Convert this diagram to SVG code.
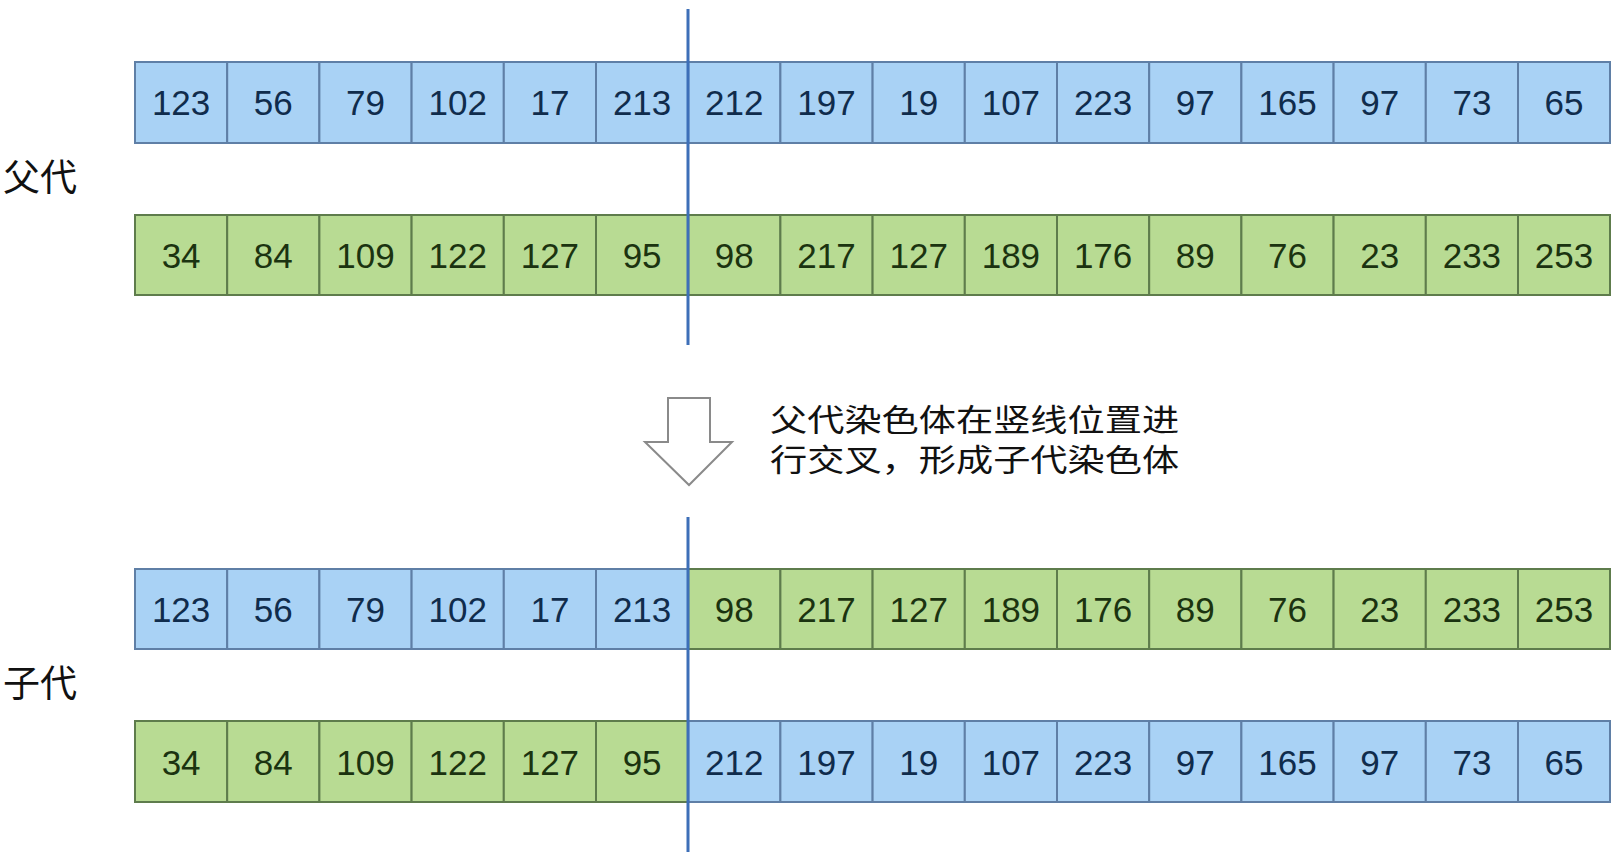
<svg xmlns="http://www.w3.org/2000/svg" width="1617" height="859" viewBox="0 0 1617 859">
<style>
.b{fill:#a9d2f5;stroke:#5f7fa6;stroke-width:2}
.g{fill:#b8db93;stroke:#5e7c4c;stroke-width:2}
.n{font-family:"Liberation Sans",Arial,sans-serif;font-size:35px;text-anchor:middle}
.tb{fill:#102c4c}
.tg{fill:#1b3310}
.lbl{font-family:"Noto Sans CJK SC","Noto Sans",sans-serif;font-size:37px;fill:#111}
.cap{font-family:"Noto Sans CJK SC","Noto Sans",sans-serif;font-size:31px;fill:#111}
.cut{stroke:#3d6fb8;stroke-width:3;fill:none}
</style>
<rect width="1617" height="859" fill="#ffffff"/>
<g id="label-parent"><text class="lbl" x="3" y="191">父代</text></g>
<g id="label-child"><text class="lbl" x="3" y="697">子代</text></g>

<g id="row-parent1">
<g id="p1-0"><rect class="b" x="135" y="62" width="92.2" height="81"/><text class="n tb" x="181.1" y="115">123</text></g>
<g id="p1-1"><rect class="b" x="227.2" y="62" width="92.2" height="81"/><text class="n tb" x="273.3" y="115">56</text></g>
<g id="p1-2"><rect class="b" x="319.4" y="62" width="92.2" height="81"/><text class="n tb" x="365.5" y="115">79</text></g>
<g id="p1-3"><rect class="b" x="411.6" y="62" width="92.2" height="81"/><text class="n tb" x="457.7" y="115">102</text></g>
<g id="p1-4"><rect class="b" x="503.8" y="62" width="92.2" height="81"/><text class="n tb" x="549.9" y="115">17</text></g>
<g id="p1-5"><rect class="b" x="596" y="62" width="92.2" height="81"/><text class="n tb" x="642.1" y="115">213</text></g>
<g id="p1-6"><rect class="b" x="688.2" y="62" width="92.2" height="81"/><text class="n tb" x="734.3" y="115">212</text></g>
<g id="p1-7"><rect class="b" x="780.4" y="62" width="92.2" height="81"/><text class="n tb" x="826.5" y="115">197</text></g>
<g id="p1-8"><rect class="b" x="872.6" y="62" width="92.2" height="81"/><text class="n tb" x="918.7" y="115">19</text></g>
<g id="p1-9"><rect class="b" x="964.8" y="62" width="92.2" height="81"/><text class="n tb" x="1010.9" y="115">107</text></g>
<g id="p1-10"><rect class="b" x="1057" y="62" width="92.2" height="81"/><text class="n tb" x="1103.1" y="115">223</text></g>
<g id="p1-11"><rect class="b" x="1149.2" y="62" width="92.2" height="81"/><text class="n tb" x="1195.3" y="115">97</text></g>
<g id="p1-12"><rect class="b" x="1241.4" y="62" width="92.2" height="81"/><text class="n tb" x="1287.5" y="115">165</text></g>
<g id="p1-13"><rect class="b" x="1333.6" y="62" width="92.2" height="81"/><text class="n tb" x="1379.7" y="115">97</text></g>
<g id="p1-14"><rect class="b" x="1425.8" y="62" width="92.2" height="81"/><text class="n tb" x="1471.9" y="115">73</text></g>
<g id="p1-15"><rect class="b" x="1518" y="62" width="92" height="81"/><text class="n tb" x="1564" y="115">65</text></g>
</g>

<g id="row-parent2">
<g id="p2-0"><rect class="g" x="135" y="215" width="92.2" height="80"/><text class="n tg" x="181.1" y="268">34</text></g>
<g id="p2-1"><rect class="g" x="227.2" y="215" width="92.2" height="80"/><text class="n tg" x="273.3" y="268">84</text></g>
<g id="p2-2"><rect class="g" x="319.4" y="215" width="92.2" height="80"/><text class="n tg" x="365.5" y="268">109</text></g>
<g id="p2-3"><rect class="g" x="411.6" y="215" width="92.2" height="80"/><text class="n tg" x="457.7" y="268">122</text></g>
<g id="p2-4"><rect class="g" x="503.8" y="215" width="92.2" height="80"/><text class="n tg" x="549.9" y="268">127</text></g>
<g id="p2-5"><rect class="g" x="596" y="215" width="92.2" height="80"/><text class="n tg" x="642.1" y="268">95</text></g>
<g id="p2-6"><rect class="g" x="688.2" y="215" width="92.2" height="80"/><text class="n tg" x="734.3" y="268">98</text></g>
<g id="p2-7"><rect class="g" x="780.4" y="215" width="92.2" height="80"/><text class="n tg" x="826.5" y="268">217</text></g>
<g id="p2-8"><rect class="g" x="872.6" y="215" width="92.2" height="80"/><text class="n tg" x="918.7" y="268">127</text></g>
<g id="p2-9"><rect class="g" x="964.8" y="215" width="92.2" height="80"/><text class="n tg" x="1010.9" y="268">189</text></g>
<g id="p2-10"><rect class="g" x="1057" y="215" width="92.2" height="80"/><text class="n tg" x="1103.1" y="268">176</text></g>
<g id="p2-11"><rect class="g" x="1149.2" y="215" width="92.2" height="80"/><text class="n tg" x="1195.3" y="268">89</text></g>
<g id="p2-12"><rect class="g" x="1241.4" y="215" width="92.2" height="80"/><text class="n tg" x="1287.5" y="268">76</text></g>
<g id="p2-13"><rect class="g" x="1333.6" y="215" width="92.2" height="80"/><text class="n tg" x="1379.7" y="268">23</text></g>
<g id="p2-14"><rect class="g" x="1425.8" y="215" width="92.2" height="80"/><text class="n tg" x="1471.9" y="268">233</text></g>
<g id="p2-15"><rect class="g" x="1518" y="215" width="92" height="80"/><text class="n tg" x="1564" y="268">253</text></g>
</g>

<g id="row-child1">
<g id="c1-0"><rect class="b" x="135" y="569" width="92.2" height="80"/><text class="n tb" x="181.1" y="622">123</text></g>
<g id="c1-1"><rect class="b" x="227.2" y="569" width="92.2" height="80"/><text class="n tb" x="273.3" y="622">56</text></g>
<g id="c1-2"><rect class="b" x="319.4" y="569" width="92.2" height="80"/><text class="n tb" x="365.5" y="622">79</text></g>
<g id="c1-3"><rect class="b" x="411.6" y="569" width="92.2" height="80"/><text class="n tb" x="457.7" y="622">102</text></g>
<g id="c1-4"><rect class="b" x="503.8" y="569" width="92.2" height="80"/><text class="n tb" x="549.9" y="622">17</text></g>
<g id="c1-5"><rect class="b" x="596" y="569" width="92.2" height="80"/><text class="n tb" x="642.1" y="622">213</text></g>
<g id="c1-6"><rect class="g" x="688.2" y="569" width="92.2" height="80"/><text class="n tg" x="734.3" y="622">98</text></g>
<g id="c1-7"><rect class="g" x="780.4" y="569" width="92.2" height="80"/><text class="n tg" x="826.5" y="622">217</text></g>
<g id="c1-8"><rect class="g" x="872.6" y="569" width="92.2" height="80"/><text class="n tg" x="918.7" y="622">127</text></g>
<g id="c1-9"><rect class="g" x="964.8" y="569" width="92.2" height="80"/><text class="n tg" x="1010.9" y="622">189</text></g>
<g id="c1-10"><rect class="g" x="1057" y="569" width="92.2" height="80"/><text class="n tg" x="1103.1" y="622">176</text></g>
<g id="c1-11"><rect class="g" x="1149.2" y="569" width="92.2" height="80"/><text class="n tg" x="1195.3" y="622">89</text></g>
<g id="c1-12"><rect class="g" x="1241.4" y="569" width="92.2" height="80"/><text class="n tg" x="1287.5" y="622">76</text></g>
<g id="c1-13"><rect class="g" x="1333.6" y="569" width="92.2" height="80"/><text class="n tg" x="1379.7" y="622">23</text></g>
<g id="c1-14"><rect class="g" x="1425.8" y="569" width="92.2" height="80"/><text class="n tg" x="1471.9" y="622">233</text></g>
<g id="c1-15"><rect class="g" x="1518" y="569" width="92" height="80"/><text class="n tg" x="1564" y="622">253</text></g>
</g>

<g id="row-child2">
<g id="c2-0"><rect class="g" x="135" y="721" width="92.2" height="81"/><text class="n tg" x="181.1" y="775">34</text></g>
<g id="c2-1"><rect class="g" x="227.2" y="721" width="92.2" height="81"/><text class="n tg" x="273.3" y="775">84</text></g>
<g id="c2-2"><rect class="g" x="319.4" y="721" width="92.2" height="81"/><text class="n tg" x="365.5" y="775">109</text></g>
<g id="c2-3"><rect class="g" x="411.6" y="721" width="92.2" height="81"/><text class="n tg" x="457.7" y="775">122</text></g>
<g id="c2-4"><rect class="g" x="503.8" y="721" width="92.2" height="81"/><text class="n tg" x="549.9" y="775">127</text></g>
<g id="c2-5"><rect class="g" x="596" y="721" width="92.2" height="81"/><text class="n tg" x="642.1" y="775">95</text></g>
<g id="c2-6"><rect class="b" x="688.2" y="721" width="92.2" height="81"/><text class="n tb" x="734.3" y="775">212</text></g>
<g id="c2-7"><rect class="b" x="780.4" y="721" width="92.2" height="81"/><text class="n tb" x="826.5" y="775">197</text></g>
<g id="c2-8"><rect class="b" x="872.6" y="721" width="92.2" height="81"/><text class="n tb" x="918.7" y="775">19</text></g>
<g id="c2-9"><rect class="b" x="964.8" y="721" width="92.2" height="81"/><text class="n tb" x="1010.9" y="775">107</text></g>
<g id="c2-10"><rect class="b" x="1057" y="721" width="92.2" height="81"/><text class="n tb" x="1103.1" y="775">223</text></g>
<g id="c2-11"><rect class="b" x="1149.2" y="721" width="92.2" height="81"/><text class="n tb" x="1195.3" y="775">97</text></g>
<g id="c2-12"><rect class="b" x="1241.4" y="721" width="92.2" height="81"/><text class="n tb" x="1287.5" y="775">165</text></g>
<g id="c2-13"><rect class="b" x="1333.6" y="721" width="92.2" height="81"/><text class="n tb" x="1379.7" y="775">97</text></g>
<g id="c2-14"><rect class="b" x="1425.8" y="721" width="92.2" height="81"/><text class="n tb" x="1471.9" y="775">73</text></g>
<g id="c2-15"><rect class="b" x="1518" y="721" width="92" height="81"/><text class="n tb" x="1564" y="775">65</text></g>
</g>

<g id="connectors">
<line class="cut" x1="688" y1="9" x2="688" y2="345"/>
<line class="cut" x1="688" y1="517" x2="688" y2="852"/>
</g>

<g id="arrow">
<polygon points="668,398 710,398 710,442 732,442 689,485 645,442 668,442" fill="#ffffff" stroke="#8a8a8a" stroke-width="2" stroke-linejoin="miter"/>
</g>

<g id="caption">
<text class="cap" transform="translate(770,431) scale(1.2,1)"><tspan x="0" y="0">父代染色体在竖线位置进</tspan><tspan x="0" y="40">行交叉，形成子代染色体</tspan></text>
</g>
</svg>
